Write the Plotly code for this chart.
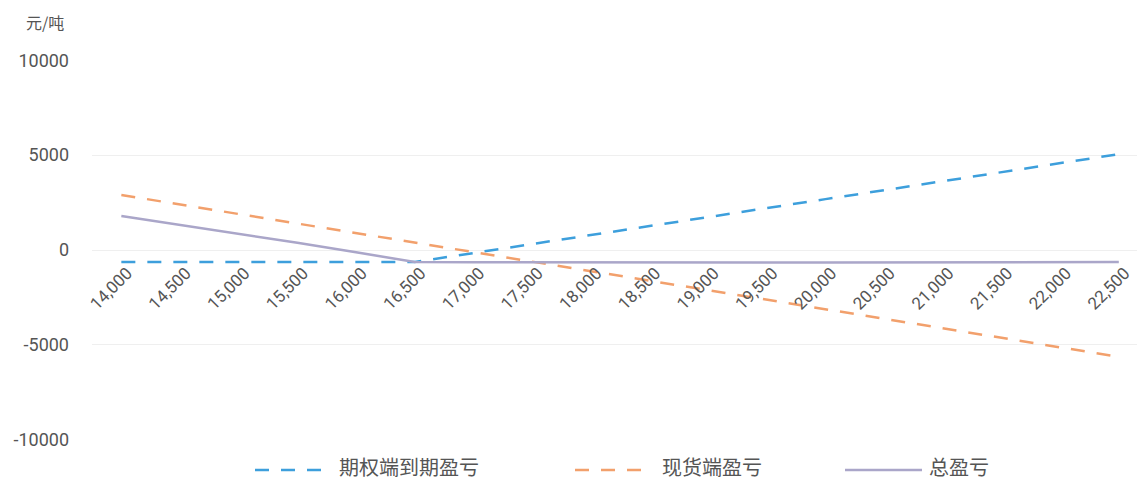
import plotly.graph_objects as go

# ---- data ----
prices = ["14,000", "14,500", "15,000", "15,500", "16,000", "16,500", "17,000", "17,500", "18,000",
          "18,500", "19,000", "19,500", "20,000", "20,500", "21,000", "21,500", "22,000", "22,500"]
option_pnl = [-630, -630, -630, -630, -630, -630, -160, 320, 790, 1260, 1730, 2210, 2680, 3150,
              3630, 4100, 4570, 5050]
spot_pnl = [2900, 2400, 1890, 1390, 890, 390, -110, -610, -1110, -1620, -2120, -2620, -3120, -3620,
            -4120, -4630, -5130, -5630]
total_pnl = [1790, 1330, 850, 380, -120, -630, -640, -650, -660, -660, -660, -660, -660, -650,
             -650, -640, -640, -630]
series_names = ["期权端到期盈亏", "现货端盈亏", "总盈亏"]
y_ticks = [-10000, -5000, 0, 5000, 10000]
y_tick_text = ["-10000", "-5000", "0", "5000", "10000"]
unit_label = "元/吨"

# ---- layout constants ----
W, H = 1137, 480
ML, MR, MT, MB = 92, 0, 60, 40
PW, PH = W - ML - MR, H - MT - MB


def px_x(x):
    return (x - ML) / PW


def px_y(y):
    return (H - MB - y) / PH


colors = ["#3d9fdc", "#f2a06c", "#aaa6c9"]
dashes = ["14px,12px", "14px,12px", "solid"]
text_color = "#555555"
num_font = "Roboto, 'Noto Sans CJK SC', sans-serif"
cjk_font = "'Noto Sans CJK SC', sans-serif"

fig = go.Figure()
for name, vals, c, d in zip(series_names, [option_pnl, spot_pnl, total_pnl], colors, dashes):
    fig.add_trace(go.Scatter(x=prices, y=vals, mode="lines", name=name,
                             line=dict(color=c, width=2.5, dash=d), showlegend=False,
                             hoverinfo="x+y+name"))

# manual legend (wide symbols like the reference)
legend_pos = [(255, 322, 337), (575, 642, 660), (845, 922, 927)]
legend_y_line = 470
legend_y_text = 467
shapes = []
annotations = []
for (x0, x1, xt), name, c, d in zip(legend_pos, series_names, colors, ["14px,12px", "14px,12px", "solid"]):
    shapes.append(dict(type="line", xref="paper", yref="paper",
                       x0=px_x(x0), x1=px_x(x1), y0=px_y(legend_y_line), y1=px_y(legend_y_line),
                       line=dict(color=c, width=2.5, dash=d)))
    annotations.append(dict(text=name, xref="paper", yref="paper", x=px_x(xt), y=px_y(legend_y_text),
                            xanchor="left", yanchor="middle", showarrow=False,
                            font=dict(family=cjk_font, size=20, color=text_color)))

annotations.append(dict(text=unit_label, xref="paper", yref="paper", x=px_x(66), y=px_y(22),
                        xanchor="right", yanchor="middle", showarrow=False,
                        font=dict(family=cjk_font, size=16, color=text_color)))

fig.update_layout(
    width=W, height=H,
    margin=dict(l=ML, r=MR, t=MT, b=MB, autoexpand=False),
    paper_bgcolor="white", plot_bgcolor="white",
    showlegend=False,
    shapes=shapes,
    annotations=annotations,
    xaxis=dict(type="category", range=[-0.5, 17.31], anchor="free", position=0.5,
               tickangle=-45, tickfont=dict(family=num_font, size=17, color=text_color),
               showgrid=False, showline=False, zeroline=False, ticks="",
               ticklabelstandoff=9, ticklabelshift=6),
    yaxis=dict(range=[-10010, 10010], tickvals=y_ticks, ticktext=y_tick_text,
               tickfont=dict(family=num_font, size=18, color=text_color),
               gridcolor="#efefef", gridwidth=1, zeroline=False, showline=False, ticks="",
               ticklabelstandoff=22),
)

fig.write_html("out.html")
